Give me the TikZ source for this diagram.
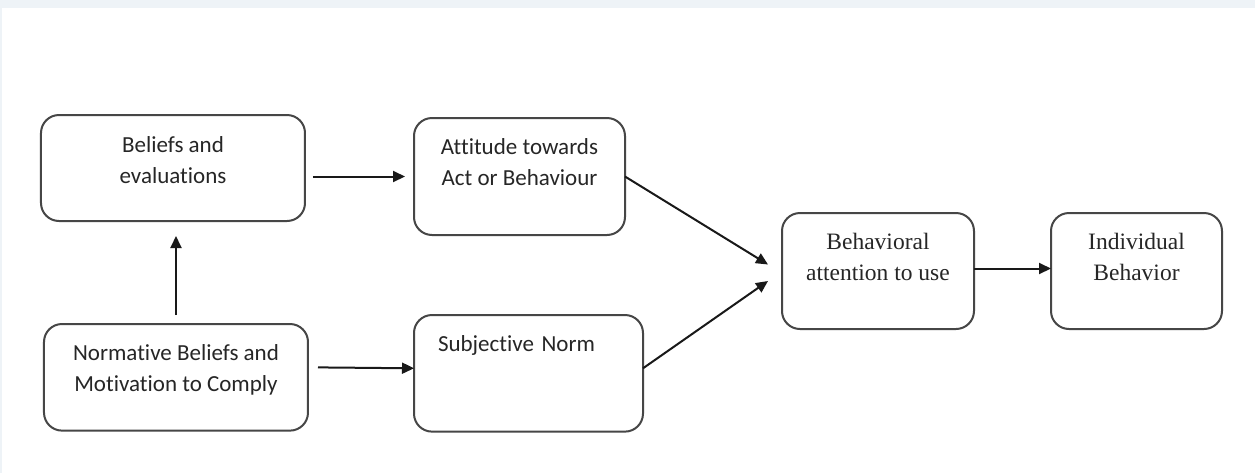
\documentclass[tikz,border=0pt]{standalone}
\usepackage{fontspec}
\setmainfont[Ligatures=NoCommon]{Carlito}
\newfontfamily\timesfont{Liberation Serif}
\usepackage{tikz}
\usetikzlibrary{arrows.meta,positioning,calc}
\definecolor{pagebg}{RGB}{238,243,247}
\definecolor{boxgray}{RGB}{70,70,70}
\definecolor{txtgray}{RGB}{38,38,38}
\definecolor{arrgray}{RGB}{25,25,25}

\begin{document}
\begin{tikzpicture}[
  box/.style={draw=boxgray,line width=1pt,rounded corners=9pt,inner sep=0pt,outer sep=0pt,
              align=center,text=txtgray,font=\fontsize{11.5}{15.5}\selectfont},
  serifbox/.style={box,font=\timesfont\fontsize{11.75}{15.2}\selectfont},
  arr/.style={-{Triangle[length=6pt,width=5.5pt]},line width=1pt,arrgray},
  >=Stealth
]
% page
\fill[pagebg] (-86.5pt,84pt) rectangle (541pt,-152.5pt);
\fill[white] (-85.5pt,80pt) rectangle (541pt,-152.5pt);
\useasboundingbox (-86.5pt,84pt) rectangle (541pt,-152.5pt);

% left column
\node[box,minimum width=132pt,text height=34pt,text depth=19pt] (beliefs) {Beliefs and\\evaluations};
\node[box,minimum width=132pt,text height=33.5pt,text depth=19.8pt,
      below=51.5pt of beliefs.south west,anchor=north west,xshift=1.5pt] (norm) {Normative Beliefs and\\Motivation to Comply};

% middle column
\node[box,minimum width=105.5pt,text height=33.5pt,text depth=25pt,
      right=54.5pt of beliefs.north east,anchor=north west,yshift=-1.5pt] (attitude) {Attitude towards\\Act or Behaviour};
\node[box,text width=90.5pt,inner xsep=12pt,align=left,text height=18.3pt,text depth=40pt,
      below=40pt of attitude.south west,anchor=north west] (subj) {Subjective Norm};

% right side
\node[serifbox,minimum width=96pt,text height=33.5pt,text depth=24.5pt,
      below right=47.5pt and 78.5pt of attitude.north east] (behav) {Behavioral\\attention to use};
\node[serifbox,minimum width=85.5pt,text height=33.5pt,text depth=24.5pt,
      right=38.5pt of behav] (indiv) {Individual\\Behavior};

% connectors
\draw[arr,shorten <=4pt,shorten >=4.5pt] (beliefs.east |- attitude.west) -- (attitude.west);
\draw[arr,shorten <=5pt] ([yshift=5pt]norm.east) -- ([yshift=2.5pt]subj.west);
\draw[arr,shorten <=4.5pt,shorten >=7.5pt] (norm.north) -- (norm.north |- beliefs.south);
\draw[arr] (attitude.east) -- ([xshift=-7pt,yshift=3.25pt]behav.west);
\draw[arr] ([yshift=2.5pt]subj.east) -- ([xshift=-7pt,yshift=-5pt]behav.west);
\draw[arr] ([yshift=1.25pt]behav.east) -- ([yshift=1.25pt]indiv.west);

\end{tikzpicture}
\end{document}
